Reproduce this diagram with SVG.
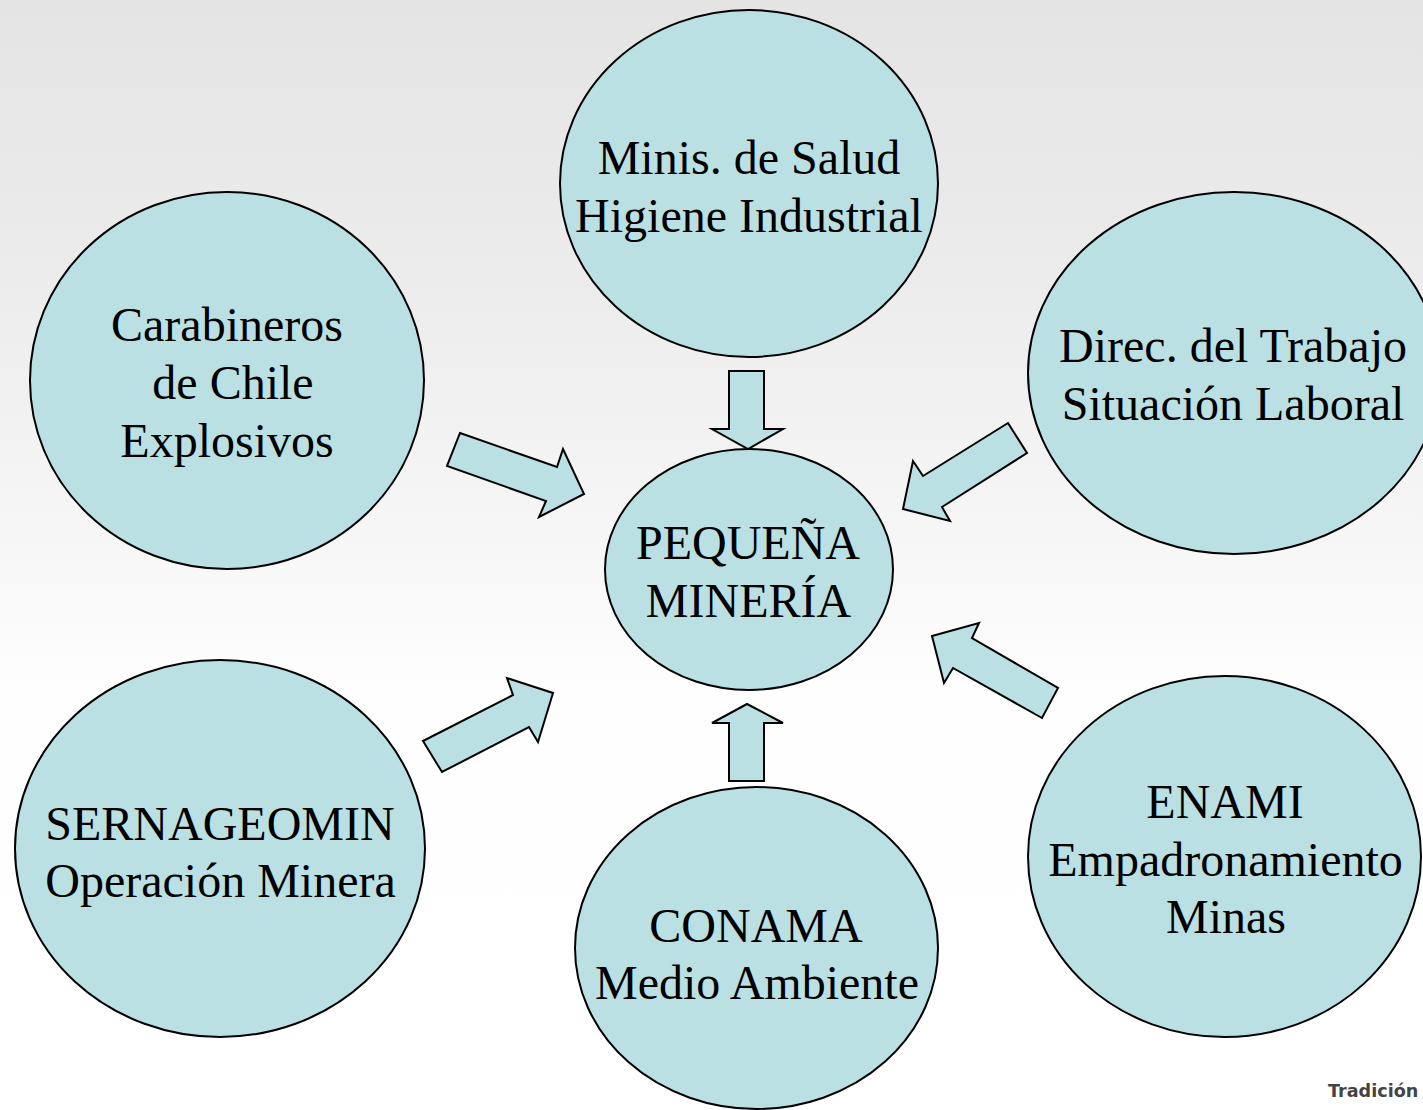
<svg xmlns="http://www.w3.org/2000/svg" width="1423" height="1110" viewBox="0 0 1423 1110">
<defs>
<linearGradient id="bg" x1="0" y1="0" x2="0" y2="1110" gradientUnits="userSpaceOnUse">
<stop offset="0" stop-color="#e4e4e4"/>
<stop offset="0.25" stop-color="#ececec"/>
<stop offset="0.5" stop-color="#f7f7f7"/>
<stop offset="0.62" stop-color="#fefefe"/>
<stop offset="1" stop-color="#ffffff"/>
</linearGradient>
<style>
.node{fill:#bbe0e3;stroke:#000;stroke-width:2}
.arrow{fill:#bbe0e3;stroke:#000;stroke-width:2;stroke-linejoin:miter}
.lbl{font-family:"Liberation Serif","Times New Roman",serif;font-size:48px;fill:#000;text-anchor:middle}
.foot{font-family:"DejaVu Sans","Liberation Sans",sans-serif;font-size:17.6px;font-weight:bold;fill:#444}
</style>
</defs>
<rect x="0" y="0" width="1423" height="1110" fill="url(#bg)"/>

<g id="connectors">
<polygon class="arrow" points="460,433 557,467 563,449 584,494 539,517 546,501 447,466"/>
<polygon class="arrow" points="729,371 764,371 764,429 783,429 748,449 712,429 729,429"/>
<polygon class="arrow" points="1008,423 1027,453 942,507 950,521 903,509 913,461 923,476"/>
<polygon class="arrow" points="423,741 513,695 507,678 553,693 538,742 529,727 442,772"/>
<polygon class="arrow" points="932,636 979,623 972,638 1058,688 1042,718 953,668 944,683"/>
<polygon class="arrow" points="747,704 783,723 764,723 764,781 729,781 729,723 712,723"/>
</g>

<g id="node-salud">
<ellipse class="node" cx="749" cy="183.5" rx="189" ry="173.5"/>
<text class="lbl" x="749" y="174">Minis. de Salud</text>
<text class="lbl" x="749" y="232">Higiene Industrial</text>
</g>

<g id="node-carabineros">
<ellipse class="node" cx="227" cy="380.5" rx="197" ry="188.5"/>
<text class="lbl" x="227" y="341">Carabineros</text>
<text class="lbl" x="233" y="399">de Chile</text>
<text class="lbl" x="227" y="457">Explosivos</text>
</g>

<g id="node-trabajo">
<ellipse class="node" cx="1234" cy="373" rx="206" ry="181"/>
<text class="lbl" x="1233" y="362">Direc. del Trabajo</text>
<text class="lbl" x="1233" y="420">Situación Laboral</text>
</g>

<g id="node-center">
<ellipse class="node" cx="749" cy="569.5" rx="144" ry="120.5"/>
<text class="lbl" x="748" y="559">PEQUEÑA</text>
<text class="lbl" x="748.5" y="617">MINERÍA</text>
</g>

<g id="node-sernageomin">
<ellipse class="node" cx="220" cy="848.5" rx="205" ry="188.5"/>
<text class="lbl" x="220" y="840">SERNAGEOMIN</text>
<text class="lbl" x="220.5" y="897">Operación Minera</text>
</g>

<g id="node-conama">
<ellipse class="node" cx="756.5" cy="948" rx="181.5" ry="161"/>
<text class="lbl" x="756" y="942">CONAMA</text>
<text class="lbl" x="757" y="999">Medio Ambiente</text>
</g>

<g id="node-enami">
<ellipse class="node" cx="1224.5" cy="856.5" rx="196.5" ry="180.5"/>
<text class="lbl" x="1225" y="818">ENAMI</text>
<text class="lbl" x="1225.5" y="876">Empadronamiento</text>
<text class="lbl" x="1226" y="933">Minas</text>
</g>

<text class="foot" x="1328" y="1097">Tradición</text>
</svg>
